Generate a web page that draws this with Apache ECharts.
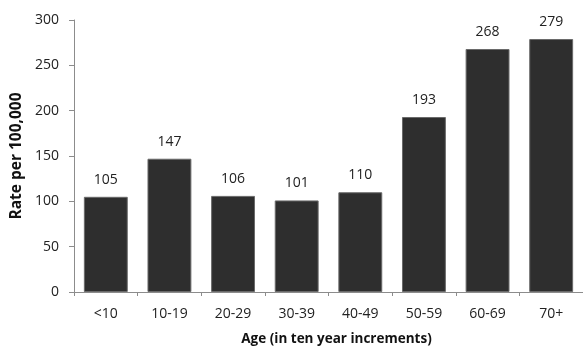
<!DOCTYPE html>
<html>
<head>
<meta charset="utf-8">
<script src="https://cdn.jsdelivr.net/npm/echarts@6/dist/echarts.min.js"></script>
<style>
  html, body { margin: 0; padding: 0; background: #fff; }
  #chart { width: 583px; height: 349px; }
</style>
</head>
<body>
<div id="chart"></div>
<script>
// Age groups and incidence rate per 100,000
const ageGroups = ['<10', '10-19', '20-29', '30-39', '40-49', '50-59', '60-69', '70+'];
const rates = [105, 147, 106, 101, 110, 193, 268, 279];
const yTicks = [0, 50, 100, 150, 200, 250, 300];

const font = '"Open Sans", "Liberation Sans", sans-serif';
const chart = echarts.init(document.getElementById('chart'));

chart.setOption({
  animation: false,
  grid: { left: 74, right: 0, top: 20, bottom: 57, containLabel: false, outerBoundsMode: 'none' },
  xAxis: {
    type: 'category',
    data: ageGroups,
    name: 'Age (in ten year increments)',
    nameLocation: 'middle',
    nameGap: 40,
    nameTextStyle: { fontFamily: font, fontSize: 13.5, fontWeight: 'bold', color: '#111', padding: [0, 0, 0, 16] },
    axisLine: { lineStyle: { color: '#8c8c8c', width: 1 } },
    axisTick: { show: true, alignWithLabel: false, length: 4, lineStyle: { color: '#8c8c8c' } },
    axisLabel: { fontFamily: font, fontSize: 14, color: '#222', margin: 15 }
  },
  yAxis: {
    type: 'value',
    min: yTicks[0],
    max: yTicks[yTicks.length - 1],
    interval: 50,
    name: 'Rate per 100,000',
    nameLocation: 'middle',
    nameGap: 48,
    nameTextStyle: { fontFamily: font, fontSize: 15.5, fontWeight: 'bold', color: '#111' },
    axisLine: { show: true, lineStyle: { color: '#8c8c8c', width: 1 } },
    axisTick: { show: true, length: 5, lineStyle: { color: '#8c8c8c' } },
    axisLabel: { fontFamily: font, fontSize: 14, color: '#222', margin: 15 },
    splitLine: { show: false }
  },
  series: [{
    type: 'bar',
    data: rates,
    barCategoryGap: '31%',
    itemStyle: { color: '#2e2e2e', borderColor: '#6a6a6a', borderWidth: 1 },
    label: {
      show: true,
      position: 'top',
      distance: 10,
      fontFamily: font,
      fontSize: 14,
      color: '#222'
    }
  }]
});
</script>
</body>
</html>
